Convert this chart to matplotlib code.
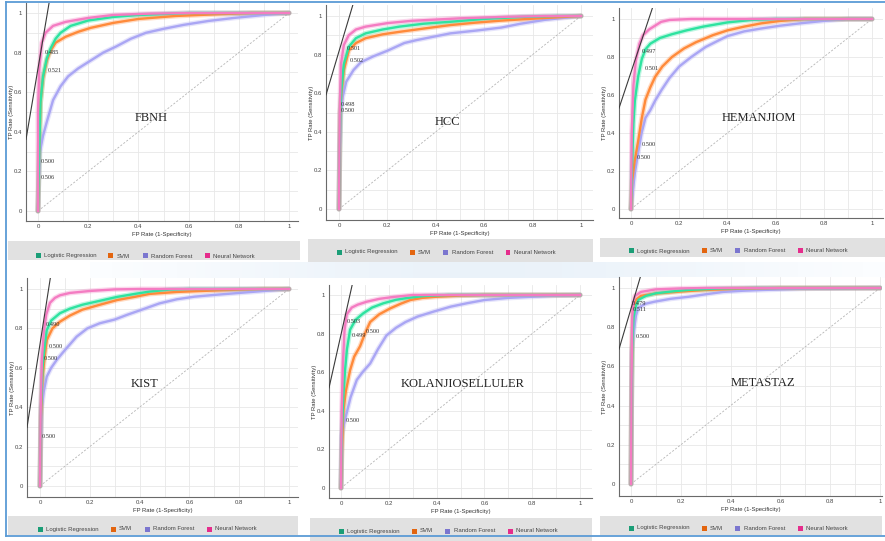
import numpy as np
import matplotlib
matplotlib.use("Agg")
import matplotlib.pyplot as plt
from matplotlib.lines import Line2D
from matplotlib.patches import Rectangle

# ---------------- data ----------------
PANEL_NAMES = ["FBNH", "HCC", "HEMANJIOM", "KIST", "KOLANJIOSELLULER", "METASTAZ"]
MODEL_NAMES = ["Logistic Regression", "SVM", "Random Forest", "Neural Network"]
X_TICKS = [0, 0.2, 0.4, 0.6, 0.8, 1]
X_TICK_LABELS = ["0", "0.2", "0.4", "0.6", "0.8", "1"]

# FBNH
FBNH_LR_FPR = [0, 0.005, 0.01, 0.02, 0.035, 0.05, 0.07, 0.09, 0.13, 0.2, 0.3, 0.4, 0.6, 1]
FBNH_LR_TPR = [0, 0.3, 0.55, 0.68, 0.77, 0.82, 0.87, 0.9, 0.935, 0.962, 0.98, 0.99, 1, 1]
FBNH_SVM_FPR = [0, 0.005, 0.01, 0.02, 0.035, 0.05, 0.07, 0.11, 0.16, 0.21, 0.3, 0.4, 0.55, 0.7, 0.85, 1]
FBNH_SVM_TPR = [0, 0.3, 0.55, 0.67, 0.76, 0.81, 0.85, 0.88, 0.905, 0.925, 0.95, 0.97, 0.985, 0.993, 1, 1]
FBNH_RF_FPR = [0, 0.003, 0.008, 0.02, 0.035, 0.06, 0.09, 0.12, 0.16, 0.21, 0.26, 0.31, 0.37, 0.43, 0.5, 0.58, 0.68, 0.78, 0.9, 1]
FBNH_RF_TPR = [0, 0.15, 0.3, 0.38, 0.45, 0.56, 0.63, 0.68, 0.72, 0.76, 0.8, 0.83, 0.87, 0.9, 0.92, 0.94, 0.96, 0.975, 0.99, 1]
FBNH_NN_FPR = [0, 0, 0.005, 0.015, 0.03, 0.06, 0.11, 0.2, 0.3, 0.45, 0.6, 1]
FBNH_NN_TPR = [0, 0.5, 0.72, 0.85, 0.9, 0.935, 0.955, 0.975, 0.99, 0.997, 1, 1]

# HCC
HCC_LR_FPR = [0, 0.005, 0.01, 0.02, 0.04, 0.07, 0.11, 0.18, 0.25, 0.35, 0.46, 0.6, 0.75, 0.9, 1]
HCC_LR_TPR = [0, 0.5, 0.62, 0.75, 0.84, 0.885, 0.91, 0.93, 0.945, 0.96, 0.97, 0.985, 0.995, 1, 1]
HCC_SVM_FPR = [0, 0.005, 0.01, 0.02, 0.04, 0.07, 0.11, 0.18, 0.25, 0.35, 0.46, 0.56, 0.67, 0.8, 0.9, 1]
HCC_SVM_TPR = [0, 0.5, 0.6, 0.72, 0.82, 0.86, 0.885, 0.905, 0.918, 0.935, 0.953, 0.965, 0.976, 0.986, 0.993, 1]
HCC_RF_FPR = [0, 0.003, 0.008, 0.015, 0.03, 0.06, 0.09, 0.14, 0.2, 0.27, 0.32, 0.4, 0.46, 0.57, 0.67, 0.75, 0.85, 1]
HCC_RF_TPR = [0, 0.3, 0.5, 0.58, 0.66, 0.72, 0.76, 0.79, 0.82, 0.86, 0.875, 0.895, 0.91, 0.925, 0.94, 0.96, 0.98, 1]
HCC_NN_FPR = [0, 0.003, 0.008, 0.02, 0.04, 0.07, 0.11, 0.2, 0.3, 0.5, 0.7, 0.85, 1]
HCC_NN_TPR = [0, 0.5, 0.75, 0.85, 0.9, 0.93, 0.945, 0.963, 0.975, 0.988, 0.996, 1, 1]

# HEMANJIOM
HEM_LR_FPR = [0, 0.005, 0.01, 0.016, 0.03, 0.045, 0.06, 0.08, 0.12, 0.17, 0.23, 0.3, 0.4, 0.5, 0.6, 1]
HEM_LR_TPR = [0, 0.25, 0.45, 0.57, 0.7, 0.79, 0.84, 0.87, 0.9, 0.92, 0.94, 0.96, 0.982, 0.995, 1, 1]
HEM_SVM_FPR = [0, 0.005, 0.015, 0.03, 0.045, 0.06, 0.08, 0.1, 0.13, 0.17, 0.22, 0.27, 0.34, 0.4, 0.47, 0.54, 0.62, 0.72, 1]
HEM_SVM_TPR = [0, 0.15, 0.25, 0.36, 0.48, 0.575, 0.64, 0.695, 0.75, 0.8, 0.845, 0.878, 0.915, 0.94, 0.96, 0.977, 0.99, 1, 1]
HEM_RF_FPR = [0, 0.008, 0.016, 0.03, 0.044, 0.06, 0.08, 0.1, 0.127, 0.16, 0.2, 0.25, 0.31, 0.36, 0.4, 0.47, 0.54, 0.62, 0.7, 0.8, 0.9, 1]
HEM_RF_TPR = [0, 0.1, 0.19, 0.3, 0.4, 0.48, 0.52, 0.57, 0.627, 0.69, 0.75, 0.8, 0.853, 0.885, 0.91, 0.935, 0.95, 0.965, 0.977, 0.99, 1, 1]
HEM_NN_FPR = [0, 0.003, 0.01, 0.02, 0.035, 0.05, 0.075, 0.1, 0.125, 0.16, 0.25, 1]
HEM_NN_TPR = [0, 0.4, 0.65, 0.78, 0.87, 0.915, 0.945, 0.965, 0.985, 0.995, 1, 1]

# KIST
KIST_LR_FPR = [0, 0.004, 0.01, 0.018, 0.027, 0.045, 0.08, 0.12, 0.17, 0.24, 0.31, 0.38, 0.44, 0.52, 0.6, 1]
KIST_LR_TPR = [0, 0.4, 0.6, 0.7, 0.79, 0.84, 0.877, 0.9, 0.92, 0.94, 0.96, 0.975, 0.987, 0.997, 1, 1]
KIST_SVM_FPR = [0, 0.004, 0.01, 0.018, 0.027, 0.05, 0.08, 0.12, 0.17, 0.24, 0.31, 0.38, 0.44, 0.55, 0.65, 0.8, 0.9, 1]
KIST_SVM_TPR = [0, 0.35, 0.55, 0.65, 0.74, 0.8, 0.834, 0.865, 0.895, 0.92, 0.944, 0.96, 0.975, 0.985, 0.99, 0.997, 1, 1]
KIST_RF_FPR = [0, 0.003, 0.006, 0.015, 0.027, 0.045, 0.067, 0.1, 0.147, 0.19, 0.24, 0.3, 0.35, 0.42, 0.48, 0.55, 0.62, 0.7, 0.78, 0.9, 1]
KIST_RF_TPR = [0, 0.2, 0.39, 0.48, 0.555, 0.6, 0.64, 0.69, 0.758, 0.8, 0.826, 0.845, 0.869, 0.9, 0.927, 0.948, 0.961, 0.97, 0.978, 0.99, 1]
KIST_NN_FPR = [0, 0.003, 0.008, 0.015, 0.025, 0.04, 0.06, 0.08, 0.12, 0.2, 0.3, 0.4, 1]
KIST_NN_TPR = [0, 0.4, 0.65, 0.78, 0.87, 0.93, 0.955, 0.968, 0.98, 0.99, 0.998, 1, 1]

# KOLANJIOSELLULER
KOL_LR_FPR = [0, 0.004, 0.01, 0.017, 0.025, 0.038, 0.06, 0.093, 0.13, 0.177, 0.23, 0.28, 0.35, 0.45, 1]
KOL_LR_TPR = [0, 0.3, 0.48, 0.61, 0.72, 0.82, 0.87, 0.905, 0.935, 0.957, 0.975, 0.985, 0.995, 1, 1]
KOL_SVM_FPR = [0, 0.004, 0.01, 0.02, 0.038, 0.055, 0.08, 0.1, 0.122, 0.16, 0.205, 0.25, 0.29, 0.34, 0.4, 0.5, 0.6, 1]
KOL_SVM_TPR = [0, 0.2, 0.4, 0.5, 0.61, 0.68, 0.735, 0.8, 0.86, 0.9, 0.93, 0.955, 0.974, 0.985, 0.991, 0.997, 1, 1]
KOL_RF_FPR = [0, 0.003, 0.012, 0.024, 0.04, 0.066, 0.09, 0.122, 0.155, 0.19, 0.23, 0.27, 0.32, 0.39, 0.46, 0.53, 0.6, 0.7, 0.8, 0.9, 1]
KOL_RF_TPR = [0, 0.27, 0.33, 0.39, 0.47, 0.56, 0.6, 0.645, 0.72, 0.79, 0.83, 0.86, 0.888, 0.915, 0.94, 0.958, 0.974, 0.985, 0.991, 0.997, 1]
KOL_NN_FPR = [0, 0.003, 0.008, 0.015, 0.024, 0.045, 0.07, 0.107, 0.16, 0.22, 0.3, 1]
KOL_NN_TPR = [0, 0.4, 0.65, 0.82, 0.9, 0.935, 0.95, 0.965, 0.98, 0.99, 1, 1]

# METASTAZ
MET_LR_FPR = [0, 0.002, 0.005, 0.01, 0.02, 0.03, 0.06, 0.1, 0.17, 0.23, 0.35, 0.5, 1]
MET_LR_TPR = [0, 0.4, 0.7, 0.85, 0.91, 0.94, 0.96, 0.973, 0.983, 0.99, 0.997, 1, 1]
MET_SVM_FPR = [0, 0.002, 0.005, 0.01, 0.02, 0.04, 0.1, 0.2, 0.3, 0.45, 0.6, 1]
MET_SVM_TPR = [0, 0.4, 0.75, 0.9, 0.94, 0.96, 0.972, 0.982, 0.99, 0.997, 1, 1]
MET_RF_FPR = [0, 0.002, 0.003, 0.01, 0.02, 0.03, 0.06, 0.094, 0.16, 0.23, 0.3, 0.37, 0.45, 0.53, 0.7, 1]
MET_RF_TPR = [0, 0.3, 0.67, 0.77, 0.86, 0.9, 0.92, 0.93, 0.945, 0.955, 0.968, 0.98, 0.986, 0.99, 0.997, 1]
MET_NN_FPR = [0, 0.002, 0.005, 0.01, 0.016, 0.04, 0.1, 0.2, 0.3, 1]
MET_NN_TPR = [0, 0.5, 0.85, 0.93, 0.96, 0.98, 0.993, 0.998, 1, 1]

# iso-performance line for each panel: (TPR at FPR = 0, slope)
ISO_INTERCEPT = [0.72, 0.817, 0.72, 0.72, 0.795, 0.895]
ISO_SLOPE = [7.5, 4.2, 3.8, 8.1, 5.5, 4.3]

# threshold annotations: (fpr, tpr, text)
FBNH_THR = [(0.025, 0.80, "0.485"), (0.04, 0.71, "0.521"), (0.012, 0.25, "0.500"), (0.012, 0.17, "0.506")]
HCC_THR = [(0.03, 0.83, "0.501"), (0.045, 0.77, "0.502"), (0.008, 0.54, "0.498"), (0.008, 0.51, "0.500")]
HEM_THR = [(0.045, 0.83, "0.497"), (0.058, 0.74, "0.501"), (0.045, 0.34, "0.500"), (0.025, 0.27, "0.500")]
KIST_THR = [(0.024, 0.82, "0.490"), (0.036, 0.71, "0.500"), (0.016, 0.645, "0.500"), (0.008, 0.25, "0.500")]
KOL_THR = [(0.025, 0.865, "0.503"), (0.046, 0.79, "0.499"), (0.105, 0.81, "0.500"), (0.02, 0.35, "0.500")]
MET_THR = [(0.005, 0.92, "0.479"), (0.008, 0.89, "0.511"), (0.02, 0.75, "0.500")]

# panel title positions in data units
TITLE_POS = [(0.45, 0.47), (0.45, 0.45), (0.53, 0.48), (0.42, 0.52), (0.51, 0.54), (0.53, 0.515)]

CURVES = [
    [(FBNH_LR_FPR, FBNH_LR_TPR), (FBNH_SVM_FPR, FBNH_SVM_TPR), (FBNH_RF_FPR, FBNH_RF_TPR), (FBNH_NN_FPR, FBNH_NN_TPR)],
    [(HCC_LR_FPR, HCC_LR_TPR), (HCC_SVM_FPR, HCC_SVM_TPR), (HCC_RF_FPR, HCC_RF_TPR), (HCC_NN_FPR, HCC_NN_TPR)],
    [(HEM_LR_FPR, HEM_LR_TPR), (HEM_SVM_FPR, HEM_SVM_TPR), (HEM_RF_FPR, HEM_RF_TPR), (HEM_NN_FPR, HEM_NN_TPR)],
    [(KIST_LR_FPR, KIST_LR_TPR), (KIST_SVM_FPR, KIST_SVM_TPR), (KIST_RF_FPR, KIST_RF_TPR), (KIST_NN_FPR, KIST_NN_TPR)],
    [(KOL_LR_FPR, KOL_LR_TPR), (KOL_SVM_FPR, KOL_SVM_TPR), (KOL_RF_FPR, KOL_RF_TPR), (KOL_NN_FPR, KOL_NN_TPR)],
    [(MET_LR_FPR, MET_LR_TPR), (MET_SVM_FPR, MET_SVM_TPR), (MET_RF_FPR, MET_RF_TPR), (MET_NN_FPR, MET_NN_TPR)],
]
THRESHOLDS = [FBNH_THR, HCC_THR, HEM_THR, KIST_THR, KOL_THR, MET_THR]

# ---------------- styling ----------------
W, H = 885, 541
CURVE_COLORS = ["#2ee3a0", "#ff8a3a", "#aaa6f4", "#f47cc2"]
LEGEND_COLORS = ["#1b9e77", "#e3650f", "#7b76cf", "#e52d8c"]
DRAW_ORDER = [2, 1, 0, 3]

# frame layout in pixels: (left, right, top, bottom, x0, x1, y0, y1)
FRAMES = [
    (26, 298, 3, 221, 38, 289, 211, 13),
    (326, 593, 5, 220, 339, 581, 209, 16),
    (619, 883, 8, 218, 631, 872, 209, 19),
    (27, 298, 278, 497, 40, 289, 486, 289),
    (329, 592, 285, 498, 341, 580, 488, 295),
    (619, 882, 277, 496, 631, 880, 484, 288),
]
# legend strip: (left, right, top, bottom, text baseline y)
STRIPS = [
    (8, 300, 241, 260, 256),
    (308, 593, 239, 262, 252),
    (600, 885, 238, 257, 251),
    (8, 298, 516, 535, 529),
    (310, 592, 518, 541, 531),
    (600, 882, 516, 535, 528),
]
LEGEND_OFFSETS = [0, 73, 107, 169]
YLABEL_GAP_PX = 12

SANS = "Liberation Sans"
SERIF = "Liberation Serif"

fig = plt.figure(figsize=(W / 100, H / 100), dpi=100)
fig.patch.set_facecolor("white")

# soft background band behind the lower row
bg = fig.add_axes([0, 0, 1, 1], zorder=-5)
bg.set_xlim(0, W)
bg.set_ylim(H, 0)
bg.axis("off")
grad = np.linspace(0, 1, 256)[None, :]
bg.imshow(np.sin(grad * np.pi) ** 1.5, extent=(90, W, 278, 262), cmap="Blues", vmin=0, vmax=6,
          aspect="auto", alpha=0.5, zorder=0)


def px_to_fig(x, y):
    return x / W, 1 - y / H


for i, name in enumerate(PANEL_NAMES):
    L, R, T, B, x0, x1, y0, y1 = FRAMES[i]
    sx = x1 - x0
    sy = y0 - y1
    ax = fig.add_axes([L / W, 1 - B / H, (R - L) / W, (B - T) / H])
    ax.set_xlim((L - x0) / sx, (R - x0) / sx)
    ax.set_ylim((y0 - B) / sy, (y0 - T) / sy)
    ax.set_facecolor("white")
    for s in ["top", "right"]:
        ax.spines[s].set_visible(False)
    for s in ["left", "bottom"]:
        ax.spines[s].set_color("#6a6a6a")
        ax.spines[s].set_linewidth(0.8)

    grid_vals = np.round(np.arange(0, 1.01, 0.1), 2)
    for g in grid_vals:
        ax.axvline(g, color="#e8e8e8", lw=0.6, zorder=0)
        ax.axhline(g, color="#e8e8e8", lw=0.6, zorder=0)

    ax.set_xticks(X_TICKS)
    ax.set_xticklabels(X_TICK_LABELS)
    ax.set_yticks(X_TICKS)
    ax.set_yticklabels(X_TICK_LABELS)
    ax.tick_params(axis="x", length=0, labelsize=4.3, labelcolor="#444444", pad=2.5)
    ax.tick_params(axis="y", length=0, labelsize=4.3, labelcolor="#444444", pad=3)
    for lab in ax.get_xticklabels() + ax.get_yticklabels():
        lab.set_family(SANS)
    ax.set_xlabel("FP Rate (1-Specificity)", fontsize=4.2, family=SANS, color="#333333", labelpad=2)
    ax.set_ylabel("TP Rate (Sensitivity)", fontsize=4.2, family=SANS, color="#333333")
    ax.yaxis.set_label_coords(-YLABEL_GAP_PX / (R - L), 0.5)

    # chance diagonal
    ax.plot([0, 1], [0, 1], color="#b5b5b5", lw=0.6, ls=(0, (2.5, 2)), zorder=1)

    # ROC curves
    for m in DRAW_ORDER:
        fpr, tpr = CURVES[i][m]
        ax.plot(fpr, tpr, color=CURVE_COLORS[m], lw=3.6, alpha=0.3, solid_capstyle="round", zorder=2)
        ax.plot(fpr, tpr, color=CURVE_COLORS[m], lw=1.7, solid_joinstyle="round", zorder=3)

    # iso-performance line
    xl = ax.get_xlim()
    xs = np.array([xl[0], xl[1]])
    ax.plot(xs, ISO_INTERCEPT[i] + ISO_SLOPE[i] * xs, color="#3a3a3a", lw=0.8, zorder=4)

    for fx, fy, txt in THRESHOLDS[i]:
        ax.text(fx, fy, txt, fontsize=4.6, family=SERIF, color="#333333", va="center", ha="left", zorder=5)

    tx, ty = TITLE_POS[i]
    ax.text(tx, ty, name, fontsize=9, family=SERIF, color="#222222", ha="center", va="center", zorder=5)

    # legend strip
    sl, sr, st, sb, ly = STRIPS[i]
    fig.patches.append(Rectangle(px_to_fig(sl, sb), (sr - sl) / W, (sb - st) / H,
                                 transform=fig.transFigure, facecolor="#e1e1e1", edgecolor="none", zorder=1))
    for m, label in enumerate(MODEL_NAMES):
        qx = x0 + LEGEND_OFFSETS[m]
        fx, fy = px_to_fig(qx, ly)
        fig.patches.append(Rectangle((fx - 2.5 / W, fy - 2.5 / H), 5 / W, 5 / H, transform=fig.transFigure,
                                     facecolor=LEGEND_COLORS[m], edgecolor="none", zorder=2))
        fig.text(fx + 6 / W, fy, label, fontsize=4.3, family=SANS, color="#444444", va="center", ha="left")

# outer blue frame
frame_color = "#5b9bd5"
fig.add_artist(Line2D([6 / W, 6 / W], [1 - 536 / H, 1 - 2 / H], color=frame_color, lw=1.3))
fig.add_artist(Line2D([6 / W, 1], [1 - 2 / H, 1 - 2 / H], color=frame_color, lw=1.3))
fig.add_artist(Line2D([6 / W, 1], [1 - 536 / H, 1 - 536 / H], color=frame_color, lw=1.3))

fig.savefig("out.png", dpi=100)
